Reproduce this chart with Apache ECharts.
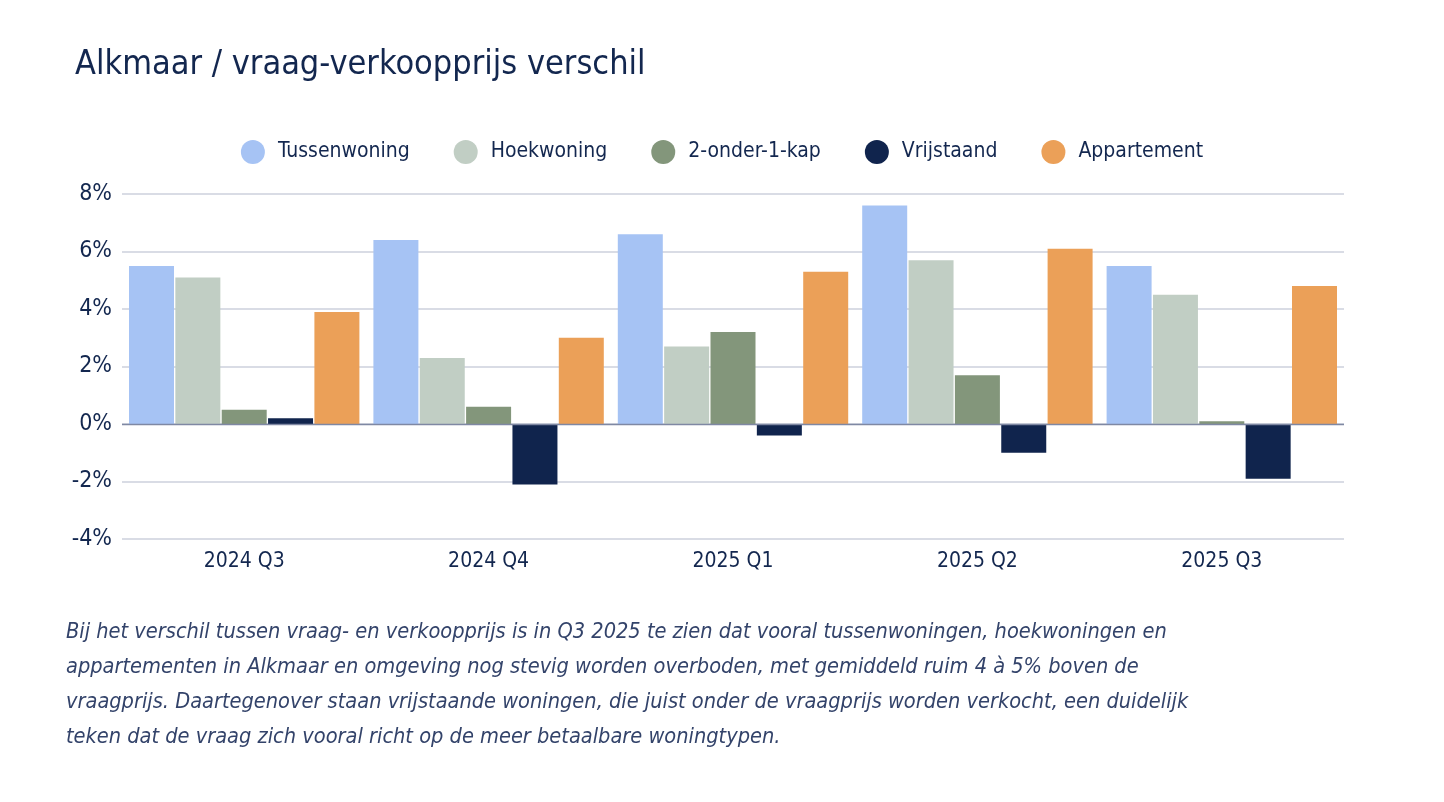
<!DOCTYPE html>
<html lang="nl">
<head>
  <meta charset="UTF-8">
  <script src="https://cdn.jsdelivr.net/npm/echarts@6/dist/echarts.min.js"></script>
  <title>Alkmaar vraag-verkoopprijs</title>
</head>
<body style="margin:0;background:#fff">
  <div id="chart" style="width:1444px;height:802px"></div>
  <script>
    const quarters = ['2024 Q3', '2024 Q4', '2025 Q1', '2025 Q2', '2025 Q3'];
    const tussenwoning = [5.5, 6.4, 6.6, 7.6, 5.5];
    const hoekwoning = [5.1, 2.3, 2.7, 5.7, 4.5];
    const onderEenKap = [0.5, 0.6, 3.2, 1.7, 0.1];
    const vrijstaand = [0.2, -2.1, -0.4, -1.0, -1.9];
    const appartement = [3.9, 3.0, 5.3, 6.1, 4.8];

    const navy = '#13274f';
    const font = '"Liberation Sans Narrow", "DejaVu Sans Condensed", Roboto, sans-serif';

    const chart = echarts.init(document.getElementById('chart'));

    function bar(name, data, color) {
      return {
        name: name,
        type: 'bar',
        data: data,
        barWidth: 45,
        barGap: '3%',
        itemStyle: { color: color }
      };
    }

    chart.setOption({
      textStyle: { fontFamily: font, color: navy },
      title: {
        text: 'Alkmaar / vraag-verkoopprijs verschil',
        left: 70,
        top: 43,
        textStyle: { fontFamily: font, fontSize: 34, fontWeight: 'normal', color: navy }
      },
      legend: {
        top: 135,
        left: 'center',
        icon: 'circle',
        itemWidth: 24,
        itemHeight: 24,
        itemGap: 44,
        textStyle: { fontFamily: font, fontSize: 21, color: navy, padding: [0, 0, 0, 8] }
      },
      grid: { left: 122, right: 100, top: 194, bottom: 263 },
      xAxis: {
        type: 'category',
        data: quarters,
        axisTick: { show: false },
        axisLine: { show: false },
        axisLabel: { fontSize: 21, color: navy, margin: 12 }
      },
      yAxis: {
        type: 'value',
        min: -4,
        max: 8,
        interval: 2,
        axisLabel: {
          fontSize: 23,
          color: navy,
          margin: 10,
          formatter: function (v) { return v + '%'; }
        },
        splitLine: { lineStyle: { color: '#cdd1dc', width: 1.5 } },
        axisLine: { show: false }
      },
      series: [
        bar('Tussenwoning', tussenwoning, '#a6c3f4'),
        bar('Hoekwoning', hoekwoning, '#c1cec4'),
        bar('2-onder-1-kap', onderEenKap, '#83967b'),
        bar('Vrijstaand', vrijstaand, '#10244d'),
        bar('Appartement', appartement, '#eba058')
      ],
      graphic: [
        {
          type: 'line',
          shape: { x1: 122, y1: 424.5, x2: 1344, y2: 424.5 },
          style: { stroke: '#7f88a3', lineWidth: 1.5 },
          z: 10
        },
        {
          type: 'text',
          left: 66,
          top: 615,
          style: {
            text: 'Bij het verschil tussen vraag- en verkoopprijs is in Q3 2025 te zien dat vooral tussenwoningen, hoekwoningen en\n' +
              'appartementen in Alkmaar en omgeving nog stevig worden overboden, met gemiddeld ruim 4 à 5% boven de\n' +
              'vraagprijs. Daartegenover staan vrijstaande woningen, die juist onder de vraagprijs worden verkocht, een duidelijk\n' +
              'teken dat de vraag zich vooral richt op de meer betaalbare woningtypen.',
            font: 'italic 21.6px ' + font,
            fill: '#33436a',
            lineHeight: 35
          }
        }
      ]
    });
  </script>
</body>
</html>
